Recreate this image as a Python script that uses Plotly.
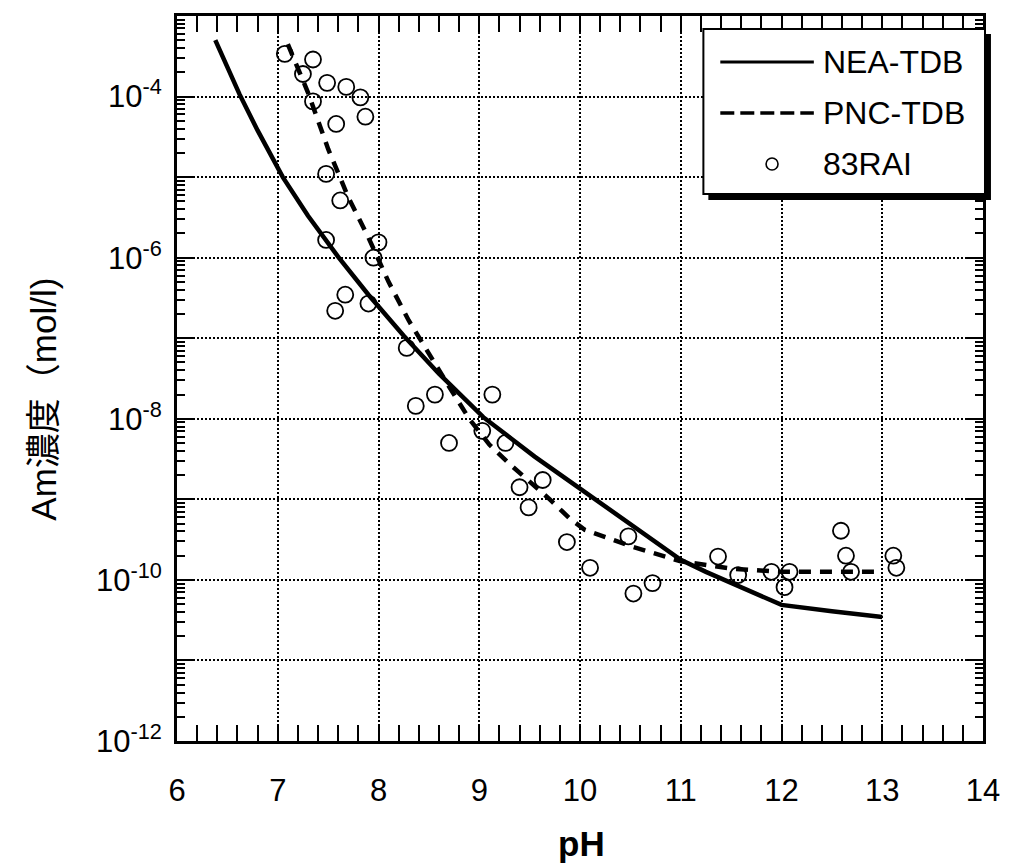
import plotly.graph_objects as go

# ---------------- data ----------------
nea_ph = [6.38, 6.50, 6.62, 6.80, 7.05, 7.30, 7.60, 7.90, 8.25, 8.60, 9.04, 9.30, 9.55,
          9.80, 10.05, 10.30, 10.55, 10.80, 11.00, 11.25, 11.50, 11.75, 12.00, 12.50,
          13.00]
nea_log = [-3.30, -3.64, -3.97, -4.42, -5.00, -5.48, -5.99, -6.46, -6.97, -7.44, -7.98,
           -8.23, -8.47, -8.69, -8.91, -9.13, -9.35, -9.57, -9.75, -9.90, -10.04,
           -10.18, -10.31, -10.39, -10.46]

pnc_ph = [7.10, 7.30, 7.50, 7.70, 7.90, 8.10, 8.30, 8.50, 8.70, 8.90, 9.10, 9.30, 9.50,
          9.70, 9.90, 10.05, 10.50, 11.00, 11.50, 12.00, 13.00]
pnc_log = [-3.35, -3.95, -4.65, -5.25, -5.75, -6.30, -6.78, -7.20, -7.60, -8.00, -8.32,
           -8.56, -8.78, -9.00, -9.24, -9.38, -9.58, -9.77, -9.86, -9.90, -9.90]

rai_ph = [7.07, 7.35, 7.25, 7.49, 7.68, 7.82, 7.35, 7.87, 7.58, 7.48, 7.62, 7.48, 8.00,
          7.95, 7.67, 7.57, 7.90, 8.28, 8.56, 8.37, 9.13, 9.03, 8.70, 9.26, 9.63, 9.40,
          9.49, 9.87, 10.10, 10.48, 10.72, 10.53, 11.37, 11.57, 11.90, 12.08, 12.03,
          12.59, 12.64, 12.69, 13.11, 13.14]
rai_log = [-3.47, -3.54, -3.72, -3.83, -3.88, -4.01, -4.06, -4.25, -4.34, -4.96, -5.29,
           -5.78, -5.81, -6.00, -6.46, -6.66, -6.57, -7.12, -7.70, -7.84, -7.70, -8.15,
           -8.30, -8.30, -8.76, -8.85, -9.10, -9.53, -9.85, -9.46, -10.04, -10.17, -9.71,
           -9.94, -9.90, -9.90, -10.09, -9.39, -9.70, -9.90, -9.70, -9.85]

series_names = ["NEA-TDB", "PNC-TDB", "83RAI"]
x_ticks = [6, 7, 8, 9, 10, 11, 12, 13, 14]
y_labeled_decades = [-12, -10, -8, -6, -4]
y_other_decades = [-11, -9, -7, -5]
x_title = "pH"
y_title = "Am濃度（mol/l)"

# ---------------- figure ----------------
FONT = "Arial, Liberation Sans, Helvetica, sans-serif"
CJK = "Arial, Liberation Sans, Noto Sans CJK JP, sans-serif"

fig = go.Figure()
fig.add_trace(go.Scatter(x=nea_ph, y=[10 ** v for v in nea_log], mode="lines",
                         name=series_names[0], line=dict(color="black", width=4.5),
                         showlegend=False))
fig.add_trace(go.Scatter(x=pnc_ph, y=[10 ** v for v in pnc_log], mode="lines",
                         name=series_names[1],
                         line=dict(color="black", width=4.5, dash="12px,9px"),
                         showlegend=False))
fig.add_trace(go.Scatter(x=rai_ph, y=[10 ** v for v in rai_log], mode="markers",
                         name=series_names[2],
                         marker=dict(symbol="circle-open", size=16, color="black",
                                     line=dict(width=1.8, color="black")),
                         showlegend=False))
# helper trace so the second (unlabelled-decade) y axis is drawn
fig.add_trace(go.Scatter(x=[None], y=[None], yaxis="y2", showlegend=False,
                         hoverinfo="skip"))

L, R, T, B = 177, 987, 16, 741
W, H = 1012, 865


def px(x):
    return (x - L) / (R - L)


def py(y):
    return (B - y) / (B - T)


fig.update_layout(
    width=W, height=H,
    margin=dict(l=L, r=W - R, t=T, b=H - B),
    paper_bgcolor="white", plot_bgcolor="white",
    font=dict(family=FONT, color="black", size=30),
)

grid = dict(showgrid=True, gridcolor="black", gridwidth=2, griddash="2px,2px")

fig.update_xaxes(
    range=[6, 14], tickvals=x_ticks, ticktext=[str(v) for v in x_ticks],
    ticks="inside", ticklen=16, tickwidth=2, tickcolor="black",
    showline=True, linecolor="black", linewidth=3, mirror="allticks",
    zeroline=False, tickfont=dict(size=31, family=FONT),
    ticklabelstandoff=20,
    minor=dict(dtick=0.2, ticks="inside", ticklen=8, tickwidth=2, tickcolor="black",
               showgrid=False),
    **grid,
)
fig.update_layout(
    yaxis=dict(
        type="log", range=[-12, -3],
        tickvals=[10 ** d for d in y_labeled_decades],
        ticktext=["10<sup>%d</sup>" % d for d in y_labeled_decades],
        ticks="inside", ticklen=16, tickwidth=2, tickcolor="black",
        showline=True, linecolor="black", linewidth=3, mirror="allticks",
        zeroline=False, tickfont=dict(size=31, family=FONT),
        ticklabelstandoff=6,
        minor=dict(dtick="D1", ticks="inside", ticklen=8, tickwidth=1.5,
                   tickcolor="black", showgrid=False),
        **grid,
    ),
    yaxis2=dict(
        type="log", range=[-12, -3], overlaying="y", side="left", anchor="x",
        tickvals=[10 ** d for d in y_other_decades], showticklabels=False,
        ticks="inside", ticklen=16, tickwidth=2, tickcolor="black",
        showline=True, linecolor="black", linewidth=3, mirror="allticks",
        zeroline=False, **grid,
    ),
)

# axis titles
fig.add_annotation(text=y_title, xref="paper", yref="paper", x=px(42), y=py(399),
                   textangle=-90, showarrow=False, font=dict(size=35, family=CJK),
                   xanchor="center", yanchor="middle")
fig.add_annotation(text="<b>%s</b>" % x_title, xref="paper", yref="paper", x=px(584),
                   y=py(843), showarrow=False, font=dict(size=35, family=FONT),
                   xanchor="center", yanchor="middle")

# legend (box with drop shadow)
shapes = [
    dict(type="rect", xref="paper", yref="paper", x0=px(711), x1=px(995), y0=py(34),
         y1=py(200), fillcolor="black", line=dict(width=0), layer="above"),
    dict(type="rect", xref="paper", yref="paper", x0=px(706), x1=px(989), y0=py(29),
         y1=py(194), fillcolor="white", line=dict(color="black", width=2), layer="above"),
    dict(type="line", xref="paper", yref="paper", x0=px(723), x1=px(817), y0=py(62),
         y1=py(62), line=dict(color="black", width=3), layer="above"),
    dict(type="line", xref="paper", yref="paper", x0=px(723), x1=px(817), y0=py(113),
         y1=py(113), line=dict(color="black", width=3.5, dash="14px,6px"), layer="above"),
    dict(type="circle", xref="paper", yref="paper", x0=px(769), x1=px(781), y0=py(158),
         y1=py(170), line=dict(color="black", width=1.6), layer="above"),
]
fig.update_layout(shapes=shapes)
for name, yy in zip(series_names, [62, 113, 164]):
    fig.add_annotation(text=name, xref="paper", yref="paper", x=px(824), y=py(yy),
                       xanchor="left", yanchor="middle", showarrow=False,
                       font=dict(size=32, family=FONT))

fig.write_html("out.html", config={"displayModeBar": False},
               post_script="document.body.style.margin='0';")
